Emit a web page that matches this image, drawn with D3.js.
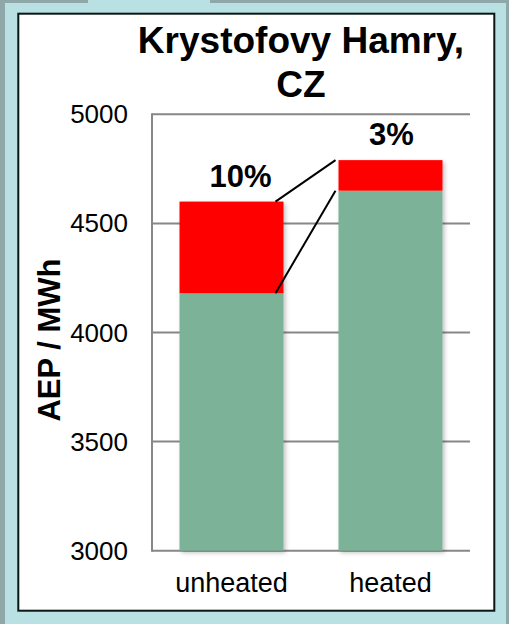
<!DOCTYPE html>
<html>
<head>
<meta charset="utf-8">
<script src="https://cdn.jsdelivr.net/npm/d3@7"></script>
<style>
  html, body { margin: 0; padding: 0; background: #b9e0e3; }
  svg { display: block; }
  text { font-family: "Liberation Sans", Arial, sans-serif; fill: #000; }
</style>
</head>
<body>
<svg id="chart" width="509" height="624"></svg>
<script>
// Annual energy production, Krystofovy Hamry (CZ)
const categories = ["unheated", "heated"];
const baseValues = [4180, 4650];     // green segment (MWh)
const lossValues = [420, 140];       // red segment on top (MWh)
const lossLabels = ["10%", "3%"];
const yTicks = [3000, 3500, 4000, 4500, 5000];
const titleLines = ["Krystofovy Hamry,", "CZ"];
const yTitle = "AEP / MWh";

const svg = d3.select("#chart");

// page frame
svg.append("rect").attr("x", 0).attr("y", 0).attr("width", 509).attr("height", 624).attr("fill", "#b9e0e3");
svg.append("rect").attr("x", 0).attr("y", 0).attr("width", 5).attr("height", 624).attr("fill", "#8fa7a9");
svg.append("rect").attr("x", 0).attr("y", 0).attr("width", 88).attr("height", 3).attr("fill", "#8fa7a9");
svg.append("rect").attr("x", 210).attr("y", 0).attr("width", 299).attr("height", 3).attr("fill", "#8fa7a9");
svg.append("rect").attr("x", 506).attr("y", 0).attr("width", 3).attr("height", 624).attr("fill", "#8fa7a9");

// white chart panel
svg.append("rect").attr("x", 18.3).attr("y", 13.7).attr("width", 476).attr("height", 597)
  .attr("fill", "#fff").attr("stroke", "#0c1616").attr("stroke-width", 2);

const defs = svg.append("defs");
const f = defs.append("filter").attr("id", "shadow").attr("x", "-10%").attr("y", "-10%").attr("width", "130%").attr("height", "130%");
f.append("feDropShadow").attr("dx", 2).attr("dy", 2).attr("stdDeviation", 2)
  .attr("flood-color", "#000").attr("flood-opacity", 0.25);

const plot = { left: 152, right: 470, top: 114.3, bottom: 550.7 };

const x = d3.scaleBand().domain(categories).range([plot.left, plot.right])
  .paddingInner(0.346).paddingOuter(0.173);
const y = d3.scaleLinear().domain([3000, 5000]).range([plot.bottom, plot.top]);

// gridlines
svg.append("g").selectAll("line").data(yTicks).join("line")
  .attr("x1", plot.left).attr("x2", plot.right)
  .attr("y1", d => y(d)).attr("y2", d => y(d))
  .attr("stroke", "#878787").attr("stroke-width", 2);

// y axis line
svg.append("line").attr("x1", plot.left).attr("x2", plot.left)
  .attr("y1", y(5000) - 1).attr("y2", y(3000) + 1)
  .attr("stroke", "#878787").attr("stroke-width", 2);

// tick labels
svg.append("g").selectAll("text").data(yTicks).join("text")
  .attr("x", 128).attr("y", d => y(d))
  .attr("text-anchor", "end").attr("dominant-baseline", "central")
  .attr("font-size", 26).text(d => d);

// stacked bars
const rows = categories.map((c, i) => ({ c, base: baseValues[i], loss: lossValues[i], label: lossLabels[i] }));
const bars = svg.append("g").attr("filter", "url(#shadow)");
bars.selectAll("rect.base").data(rows).join("rect").attr("class", "base")
  .attr("x", d => x(d.c)).attr("width", x.bandwidth())
  .attr("y", d => y(d.base)).attr("height", d => y(3000) - y(d.base))
  .attr("fill", "#7bb398");
bars.selectAll("rect.loss").data(rows).join("rect").attr("class", "loss")
  .attr("x", d => x(d.c)).attr("width", x.bandwidth())
  .attr("y", d => y(d.base + d.loss)).attr("height", d => y(d.base) - y(d.base + d.loss))
  .attr("fill", "#ff0000");

// connector lines between the two stacks
const x0 = x(categories[0]) + x.bandwidth() - 8;
const x1 = x(categories[1]) - 3;
const levels = [
  [rows[0].base + rows[0].loss, rows[1].base + rows[1].loss],
  [rows[0].base, rows[1].base]
];
svg.append("g").selectAll("line").data(levels).join("line")
  .attr("x1", x0).attr("y1", d => y(d[0]))
  .attr("x2", x1).attr("y2", d => y(d[1]))
  .attr("stroke", "#000").attr("stroke-width", 2);

// percentage labels
svg.append("g").selectAll("text").data(rows).join("text")
  .attr("x", (d, i) => x(d.c) + x.bandwidth() / 2 + (i === 0 ? 9 : 1))
  .attr("y", d => y(d.base + d.loss) - 15)
  .attr("text-anchor", "middle").attr("font-size", 31).attr("font-weight", "bold")
  .text(d => d.label);

// category labels
svg.append("g").selectAll("text").data(categories).join("text")
  .attr("x", d => x(d) + x.bandwidth() / 2).attr("y", 592)
  .attr("text-anchor", "middle").attr("font-size", 27).text(d => d);

// title
svg.append("g").selectAll("text").data(titleLines).join("text")
  .attr("x", 301).attr("y", (d, i) => 53 + i * 44)
  .attr("text-anchor", "middle").attr("font-size", 37).attr("font-weight", "bold")
  .text(d => d);

// y axis title
svg.append("text")
  .attr("transform", "translate(60,340) rotate(-90)")
  .attr("text-anchor", "middle").attr("font-size", 31).attr("font-weight", "bold")
  .text(yTitle);
</script>
</body>
</html>
